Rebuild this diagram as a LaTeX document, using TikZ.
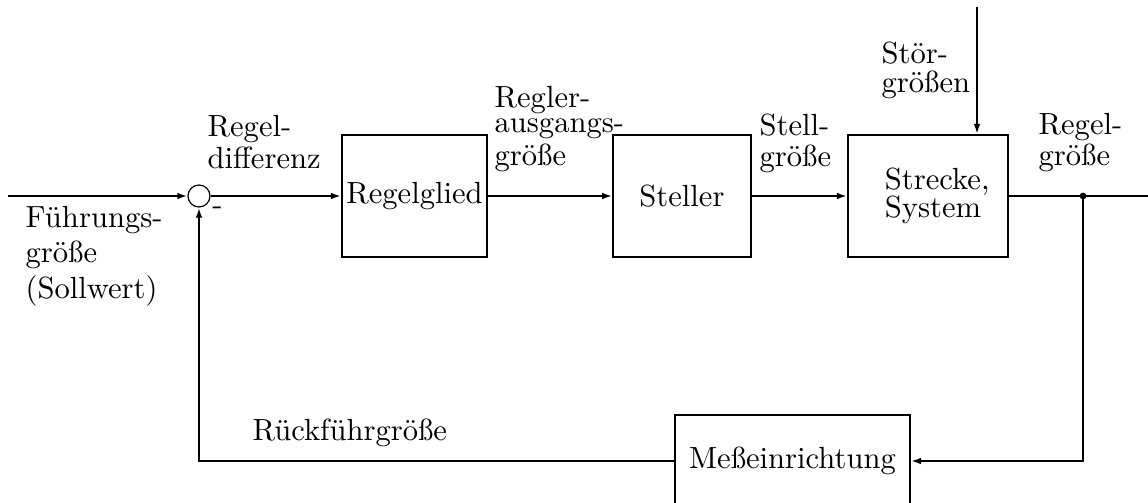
\documentclass[tikz,border=0pt]{standalone}
\usepackage{fontspec}
\usepackage{tikz}
\usetikzlibrary{arrows.meta}

\tikzset{
  block/.style={draw, line width=0.65pt, inner sep=1pt, minimum height=39.9pt},
  lbl/.style={align=left, inner sep=0pt, anchor=base west, font=\fontsize{10pt}{10pt}\selectfont},
}

\begin{document}
\begin{tikzpicture}[x=0.3268pt, y=-0.3268pt]
		\useasboundingbox (0,0) rectangle (1148,502);
		% blocks
		\node[draw, circle, line width=0.4pt, minimum size=7.2pt, inner sep=0pt] (sum) at (199,196) {};
		\node[block, minimum width=47.4pt] (regler) at (414.5,196) {Regelglied};
		\node[block, minimum width=45pt] (steller) at (682,196) {Steller};
		\node[block, minimum width=52.3pt, align=left, font=\fontsize{10pt}{9.2pt}\selectfont] (strecke) at (928,196) {\hspace*{6pt}Strecke,\\\hspace*{6pt}System};
		\node[block, minimum width=76.8pt, minimum height=30pt] (mess) at (792.5,461) {Meßeinrichtung};
		\coordinate (in) at (8,196);
		\coordinate (out) at (1148,196);
		\coordinate (stoer) at (977,7);
		\coordinate (dot) at (1083,196);
		\fill (dot) circle (1.1pt);
		%
		\path[->,line width=0.65pt,>={Latex[length=3.3pt,width=2.2pt]}]
		% forward path
		(in) edge (sum.west)
		(sum.east) edge (regler.west)
		(regler) edge (steller)
		(steller) edge (strecke)
		(stoer) edge (stoer |- strecke.north);
		\draw[line width=0.65pt] (strecke.east) -- (out);
		% feedback path
		\draw[->,line width=0.65pt,>={Latex[length=3.3pt,width=2.2pt]}]
		(dot) -- (dot |- mess.east) -- (mess.east);
		\draw[->,line width=0.65pt,>={Latex[length=3.3pt,width=2.2pt]}]
		(mess.west) -- (sum |- mess.west) -- (sum.south);
		% labels
		\node[lbl] (regdiff) at (207,168) {Regel-\\[0.3pt]differenz};
		\node[lbl, font=\fontsize{10pt}{11.5pt}\selectfont] (fuehrgr) at (25,298) {Führungs-\\größe\\(Sollwert)};
		\node[inner sep=0pt] (minus) at (217.5,211) {-};
		\node[lbl] (reglaus) at (494,165) {Regler-\\[-1.7pt]ausgangs-\\[0.6pt]größe};
		\node[lbl] (stellgr) at (759,166) {Stell-\\größe};
		\node[lbl] (regelgr) at (1038,165) {Regel-\\größe};
		\node[lbl, font=\fontsize{10pt}{9.4pt}\selectfont] (stoergr) at (881,92) {Stör-\\größen};
		\node[lbl] (rueckgr) at (252,440) {Rückführgröße};
	\end{tikzpicture}
\end{document}
